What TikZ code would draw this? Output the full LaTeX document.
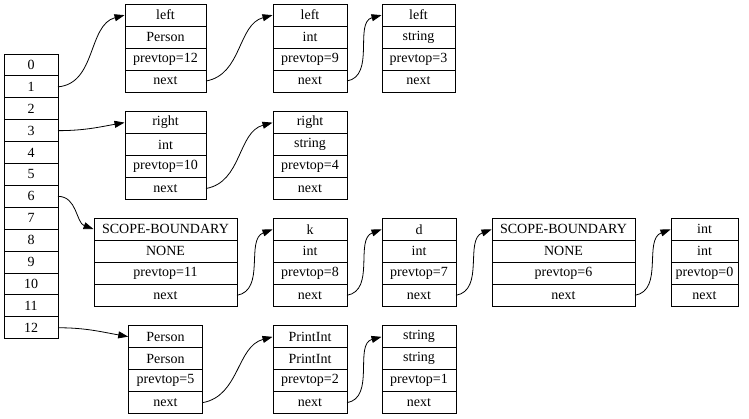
\documentclass[tikz,border=0pt]{standalone}
\usepackage{fontspec}
\setmainfont{Liberation Serif}
\usetikzlibrary{arrows.meta}
\tikzset{
  cell/.style={draw, line width=0.9pt, minimum height=22pt, inner sep=0pt, outer sep=0pt, font=\fontsize{14}{16}\selectfont},
  link/.style={line width=0.8pt, -{Triangle[length=10pt,width=7pt]}, shorten >=0.5pt}
}
\newcommand\recbox[8]{%
  \node[cell, minimum width=#4pt, anchor=north west] (#1-1) at (#2,#3) {#5};
  \node[cell, minimum width=#4pt, anchor=north] (#1-2) at (#1-1.south) {#6};
  \node[cell, minimum width=#4pt, anchor=north] (#1-3) at (#1-2.south) {#7};
  \node[cell, minimum width=#4pt, anchor=north] (#1-4) at (#1-3.south) {#8};
}
\begin{document}
\begin{tikzpicture}[x=1pt,y=-1pt]
\useasboundingbox (0,0) rectangle (749,418);
% stack array
\node[cell, minimum width=54pt, minimum height=21.9pt, anchor=north west] (s0) at (4,54) {0};
\foreach \i [remember=\i as \j (initially 0)] in {1,...,12} {
  \node[cell, minimum width=54pt, minimum height=21.9pt, anchor=north] (s\i) at (s\j.south) {\i};
}
% records
\recbox{A1}{125}{4}{81}{left}{Person}{prevtop=12}{next}
\recbox{A2}{273}{4}{74}{left}{int}{prevtop=9}{next}
\recbox{A3}{382}{4}{73}{left}{string}{prevtop=3}{next}
\recbox{B1}{125}{111.5}{81}{right}{int}{prevtop=10}{next}
\recbox{B2}{273}{111.5}{74}{right}{string}{prevtop=4}{next}
\recbox{C1}{94}{218.3}{143}{SCOPE-BOUNDARY}{NONE}{prevtop=11}{next}
\recbox{C2}{273}{218.3}{74}{k}{int}{prevtop=8}{next}
\recbox{C3}{382}{218.3}{74}{d}{int}{prevtop=7}{next}
\recbox{C4}{492}{218.3}{143}{SCOPE-BOUNDARY}{NONE}{prevtop=6}{next}
\recbox{C5}{671}{218.3}{67}{int}{int}{prevtop=0}{next}
\recbox{D1}{128.7}{325.7}{73.6}{Person}{Person}{prevtop=5}{next}
\recbox{D2}{273}{325.7}{74}{PrintInt}{PrintInt}{prevtop=2}{next}
\recbox{D3}{382}{325.7}{74}{string}{string}{prevtop=1}{next}
% links
\draw[link] (s1.east) to[out=5,in=195] (A1-1.west);
\draw[link] (A1-4.east) to[out=10,in=195] (A2-1.west);
\draw[link] (A2-4.east) to[out=10,in=195] (A3-1.west);
\draw[link] (s3.east) to[out=0,in=190] (B1-1.west);
\draw[link] (B1-4.east) to[out=10,in=195] (B2-1.west);
\draw[link] (s6.east) to[out=0,in=160] (C1-1.west);
\draw[link] (C1-4.east) to[out=10,in=200] (C2-1.west);
\draw[link] (C2-4.east) to[out=10,in=200] (C3-1.west);
\draw[link] (C3-4.east) to[out=10,in=200] (C4-1.west);
\draw[link] (C4-4.east) to[out=10,in=200] (C5-1.west);
\draw[link] (s12.east) to[out=0,in=170] (D1-1.west);
\draw[link] (D1-4.east) to[out=10,in=195] (D2-1.west);
\draw[link] (D2-4.east) to[out=10,in=195] (D3-1.west);
\end{tikzpicture}
\end{document}
